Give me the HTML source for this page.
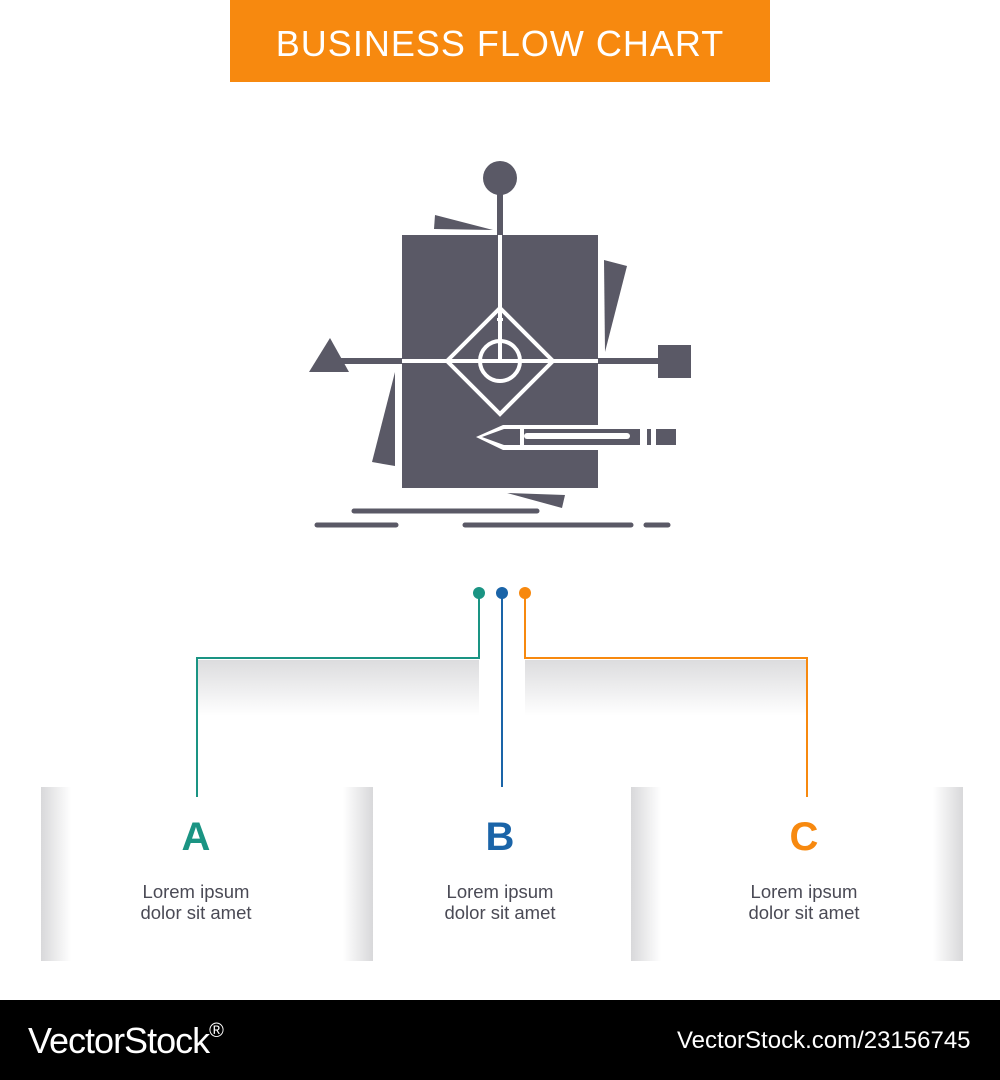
<!DOCTYPE html>
<html><head><meta charset="utf-8"><style>
html,body{margin:0;padding:0;background:#fff;}
body{width:1000px;height:1080px;position:relative;overflow:hidden;font-family:"Liberation Sans",sans-serif;}
.abs{position:absolute;}
.title{left:230px;top:0;width:540px;height:82px;background:#f7890f;color:#fff;font-size:36px;text-align:center;line-height:88px;letter-spacing:1px;}
.band{top:660px;height:56px;background:linear-gradient(#dcdcde,#fff);}
.box{top:787px;height:174px;width:332px;}
.shL{width:30px;background:linear-gradient(90deg,#d8d8da,#fff);}
.shR{width:30px;background:linear-gradient(270deg,#d8d8da,#fff);}
.let{font-size:40px;font-weight:bold;text-align:center;width:200px;}
.txt{font-size:18.5px;color:#4a4a55;text-align:center;width:200px;line-height:21px;}
.foot{left:0;top:1000px;width:1000px;height:80px;background:#000;color:#fff;}
</style></head><body>
<div class="abs title">BUSINESS FLOW CHART</div>

<svg class="abs" style="left:0;top:0" width="1000" height="1000">
<g fill="#5a5966">
<circle cx="500" cy="178" r="17"/>
<rect x="497" y="178" width="6" height="58"/>
<polygon points="435,215 493,230 434,229"/>
<polygon points="604,260 627,266 605,352"/>
<polygon points="395,372 372,462 395,466"/>
<polygon points="507,493 565,495 562,508"/>
<rect x="402" y="235" width="196" height="253"/>
<rect x="340" y="358" width="320" height="6"/>
<polygon points="309,372 349,372 330,338"/>
<rect x="658" y="345" width="33" height="33"/>
</g>
<g stroke="#fff" stroke-width="4" fill="none">
<line x1="500" y1="235" x2="500" y2="361"/>
<line x1="402" y1="361" x2="598" y2="361"/>
<polygon points="500,308 553,361 500,414 447,361"/>
<circle cx="500" cy="361" r="20"/>
</g>
<rect x="497" y="318" width="6" height="3" fill="#fff"/>
<polygon points="476,437 503,425 598,425 598,450 503,450" fill="#fff"/>
<g fill="#5a5966">
<polygon points="482,437 504,429 520,429 520,445 504,445"/>
<rect x="524" y="429" width="116" height="16"/>
<rect x="647" y="429" width="4" height="16"/>
<rect x="656" y="429" width="20" height="16"/>
</g>
<rect x="524" y="433" width="106" height="6" rx="3" fill="#fff"/>
<g stroke="#5a5966" stroke-width="5" stroke-linecap="round">
<line x1="354" y1="511" x2="537" y2="511"/>
<line x1="317" y1="525" x2="396" y2="525"/>
<line x1="465" y1="525" x2="631" y2="525"/>
<line x1="646" y1="525" x2="668" y2="525"/>
</g>
</svg>

<div class="abs band" style="left:198px;width:281px;"></div>
<div class="abs band" style="left:525px;width:282px;"></div>

<div class="abs box" style="left:41px;"><div class="abs shL" style="left:0;top:0;height:174px"></div><div class="abs shR" style="right:0;top:0;height:174px"></div></div>
<div class="abs box" style="left:631px;"><div class="abs shL" style="left:0;top:0;height:174px"></div><div class="abs shR" style="right:0;top:0;height:174px"></div></div>

<svg class="abs" style="left:0;top:0" width="1000" height="1000" fill="none" stroke-width="2">
<polyline points="479,593 479,658 197,658 197,797" stroke="#1a9483"/>
<line x1="502" y1="593" x2="502" y2="787" stroke="#1a64a8"/>
<polyline points="525,593 525,658 807,658 807,797" stroke="#f7890f"/>
<circle cx="479" cy="593" r="6" fill="#1a9483" stroke="none"/>
<circle cx="502" cy="593" r="6" fill="#1a64a8" stroke="none"/>
<circle cx="525" cy="593" r="6" fill="#f7890f" stroke="none"/>
</svg>

<div class="abs let" style="left:96px;top:815px;color:#1a9483">A</div>
<div class="abs let" style="left:400px;top:815px;color:#1a64a8">B</div>
<div class="abs let" style="left:704px;top:815px;color:#f7890f">C</div>
<div class="abs txt" style="left:96px;top:881px">Lorem ipsum<br>dolor sit amet</div>
<div class="abs txt" style="left:400px;top:881px">Lorem ipsum<br>dolor sit amet</div>
<div class="abs txt" style="left:704px;top:881px">Lorem ipsum<br>dolor sit amet</div>

<div class="abs foot">
<div class="abs" style="left:28px;top:20px;font-size:36px;letter-spacing:-1px">VectorStock<span style="font-size:20px;vertical-align:top">®</span></div>
<div class="abs" style="left:677px;top:27px;font-size:24px">VectorStock.com/23156745</div>
</div>
</body></html>
